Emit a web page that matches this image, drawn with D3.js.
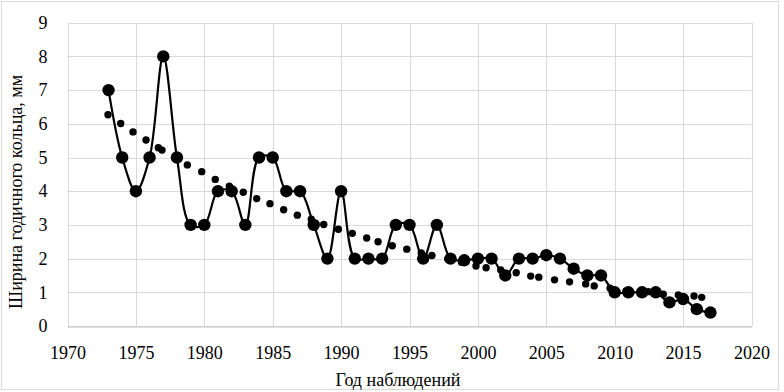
<!DOCTYPE html>
<html>
<head>
<meta charset="utf-8">
<script src="https://cdn.jsdelivr.net/npm/d3@7"></script>
<style>
  html, body { margin:0; padding:0; background:#fff; }
  svg { display:block; }
  text { font-family: "Liberation Serif", "Times New Roman", serif; fill:#000; }
</style>
</head>
<body>
<div id="chart"></div>
<script>
// ring width by year (line with big markers)
const years = [1973,1974,1975,1976,1977,1978,1979,1980,1981,1982,1983,1984,1985,1986,1987,
  1988,1989,1990,1991,1992,1993,1994,1995,1996,1997,1998,1999,2000,2001,2002,2003,2004,
  2005,2006,2007,2008,2009,2010,2011,2012,2013,2014,2015,2016,2017];
const widths = [7,5,4,5,8,5,3,3,4,4,3,5,5,4,4,
  3,2,4,2,2,2,3,3,2,3,2,1.95,2,2,1.5,2,2,
  2.1,2,1.7,1.5,1.5,1.0,1.0,1.0,1.0,0.7,0.8,0.5,0.4];

// trend drawn as round dots (positions)
const trendYears = [1972.96,1973.89,1974.79,1975.74,1976.64,1976.91,1978.76,1979.81,1980.8,
  1981.83,1982.85,1983.83,1984.8,1985.8,1986.8,1987.82,1988.73,1989.8,1990.82,1991.87,
  1992.7,1993.74,1994.8,1995.86,1996.64,1997.8,1998.8,1999.86,2000.6,2001.67,2002.8,
  2003.86,2004.45,2005.6,2006.7,2007.88,2008.5,2009.66,2010.83,2012.46,2013.55,2014.65,
  2015.8,2016.36];
const trendValues = [6.27,6.01,5.76,5.52,5.29,5.22,4.78,4.58,4.35,
  4.15,3.97,3.78,3.63,3.45,3.29,3.17,3.01,2.87,2.75,2.61,
  2.5,2.38,2.28,2.17,2.09,1.99,1.89,1.78,1.73,1.66,1.58,
  1.48,1.45,1.37,1.31,1.25,1.19,1.12,1.04,1.02,0.94,0.92,
  0.89,0.85];

const xTicks = [1970,1975,1980,1985,1990,1995,2000,2005,2010,2015,2020];
const yTicks = [0,1,2,3,4,5,6,7,8,9];

const W = 784, H = 392;
const margin = { left: 67.5, right: 32.5, top: 22.7, bottom: 66 };

const svg = d3.select("#chart").append("svg")
  .attr("width", W).attr("height", H);

// outer chart border
svg.append("rect")
  .attr("x", 1.5).attr("y", 1.5)
  .attr("width", W - 7).attr("height", H - 4)
  .attr("fill", "#fff")
  .attr("stroke", "#d9d9d9");

const x = d3.scaleLinear().domain([1970, 2020]).range([margin.left, W - margin.right]);
const y = d3.scaleLinear().domain([0, 9]).range([H - margin.bottom, margin.top]);

// grid
const grid = svg.append("g").attr("stroke", "#d9d9d9").attr("stroke-width", 1);
grid.selectAll("line.h").data(yTicks).join("line")
  .attr("x1", x(1970)).attr("x2", x(2020))
  .attr("y1", d => Math.round(y(d)) + 0.5).attr("y2", d => Math.round(y(d)) + 0.5);
grid.selectAll("line.v").data(xTicks).join("line")
  .attr("y1", y(0)).attr("y2", y(9))
  .attr("x1", d => Math.round(x(d)) + 0.5).attr("x2", d => Math.round(x(d)) + 0.5);

// x axis
const xAxis = svg.append("g")
  .attr("transform", `translate(0,${Math.round(y(0)) + 0.5})`)
  .call(d3.axisBottom(x).tickValues(xTicks).tickFormat(d3.format("d")).tickSize(0).tickPadding(20));
xAxis.select(".domain").attr("stroke", "#bfbfbf");
xAxis.selectAll("text").attr("font-size", 18).attr("font-family", "Liberation Serif");

// y axis
const yAxis = svg.append("g")
  .attr("transform", `translate(${x(1970)},0)`)
  .call(d3.axisLeft(y).tickValues(yTicks).tickFormat(d3.format("d")).tickSize(0).tickPadding(20));
yAxis.select(".domain").remove();
yAxis.selectAll("text").attr("font-size", 18).attr("font-family", "Liberation Serif");

// axis titles
svg.append("text")
  .attr("x", 398).attr("y", 386)
  .attr("text-anchor", "middle")
  .attr("font-size", 18)
  .text("Год наблюдений");

svg.append("text")
  .attr("transform", "translate(22,192) rotate(-90)")
  .attr("text-anchor", "middle")
  .attr("font-size", 18)
  .text("Ширина годичного кольца, мм");

// main series
const pts = years.map((yr, i) => [yr, widths[i]]);
const line = d3.line()
  .x(d => x(d[0])).y(d => y(d[1]))
  .curve(d3.curveCatmullRom.alpha(0.5));

svg.append("path")
  .datum(pts)
  .attr("d", line)
  .attr("fill", "none")
  .attr("stroke", "#000")
  .attr("stroke-width", 2.2);

svg.append("g").selectAll("circle").data(pts).join("circle")
  .attr("cx", d => x(d[0])).attr("cy", d => y(d[1]))
  .attr("r", 6.2)
  .attr("fill", "#000");

// trend dots
svg.append("g").selectAll("circle").data(trendYears.map((t, i) => [t, trendValues[i]])).join("circle")
  .attr("cx", d => x(d[0])).attr("cy", d => y(d[1]))
  .attr("r", 3.7)
  .attr("fill", "#000");
</script>
</body>
</html>
